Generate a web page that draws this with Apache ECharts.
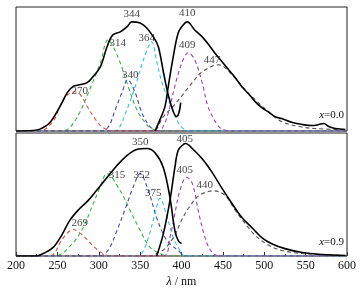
<!DOCTYPE html>
<html>
<head>
<meta charset="utf-8">
<script src="https://cdn.jsdelivr.net/npm/echarts@6/dist/echarts.min.js"></script>
<style>
  html, body { margin: 0; padding: 0; background: #fff; }
  #chart { width: 364px; height: 291px; }
</style>
</head>
<body>
<div id="chart"></div>
<script>
// x axis ticks (nm)
var xTicks = [200, 250, 300, 350, 400, 450, 500, 550, 600];

// panel x = 0.0 : measured excitation / emission, and fitted gaussian parts
var exc0 = [[200,0],[220,0.004],[229,0.015],[241,0.068],[253,0.197],[262,0.309],[269,0.36],[277,0.373],[286,0.39],[293,0.438],[302,0.518],[310,0.679],[317,0.775],[326,0.799],[334,0.839],[340,0.88],[350,0.871],[358,0.831],[366,0.759],[372,0.68],[378,0.48],[384,0.29],[390,0.157],[394,0.116],[397,0.149],[399,0.229]];
var em0 = [[368,0],[374,0.092],[380,0.197],[384,0.36],[390,0.598],[396,0.791],[402,0.855],[407,0.88],[416,0.815],[425,0.759],[433,0.695],[440,0.631],[449,0.558],[457,0.494],[465,0.43],[473,0.357],[482,0.293],[489,0.237],[497,0.189],[506,0.149],[513,0.116],[521,0.1],[534,0.068],[546,0.052],[558,0.044],[566,0.052],[572,0.06],[578,0.036],[586,0.02],[598,0.012]];
var red0 = [[200,0],[229,0],[245,0.08],[253,0.197],[262,0.29],[271,0.317],[278,0.29],[286,0.197],[298,0.076],[305,0.028],[320,0],[600,0]];
var green0 = [[200,0],[255,0],[265,0.028],[277,0.149],[289,0.333],[302,0.55],[311,0.735],[323,0.6],[334,0.39],[346,0.173],[358,0.052],[366,0.012],[380,0],[600,0]];
var blue0 = [[200,0],[300,0],[311,0.028],[320,0.173],[328,0.309],[335,0.414],[344,0.309],[352,0.149],[362,0.036],[372,0],[600,0]];
var cyan0 = [[200,0],[315,0],[323,0.012],[334,0.173],[344,0.357],[354,0.574],[364,0.72],[370,0.56],[376,0.4],[383,0.27],[390,0.16],[396,0.068],[404,0.01],[412,0],[600,0]];
var purple0 = [[200,0],[372,0],[380,0.068],[386,0.197],[394,0.414],[402,0.574],[408,0.631],[416,0.574],[425,0.39],[432,0.197],[443,0.052],[449,0.015],[460,0],[600,0]];
var gray0 = [[200,0],[365,0],[378,0.116],[390,0.2],[400,0.28],[413,0.39],[425,0.478],[445,0.534],[461,0.454],[477,0.333],[489,0.253],[506,0.149],[521,0.076],[542,0.036],[561,0.02],[600,0.01]];
var labels0 = [[340,0.944,'344'],[323,0.711,'314'],[358,0.751,'364'],[338,0.454,'340'],[277,0.325,'270'],[407,0.952,'410'],[407,0.695,'409'],[437,0.574,'447']];

// panel x = 0.9
var exc9 = [[200,0],[225,0],[233,0.02],[245,0.07],[255,0.166],[265,0.29],[277,0.386],[287,0.45],[297,0.53],[310,0.638],[322,0.736],[334,0.817],[346,0.866],[358,0.874],[368,0.84],[378,0.72],[386,0.476],[392,0.207],[396,0.126],[400,0.1]];
var em9 = [[370,0],[378,0.18],[386,0.45],[392,0.72],[396,0.86],[402,0.906],[405,0.915],[413,0.874],[425,0.79],[437,0.68],[449,0.55],[461,0.427],[473,0.313],[486,0.224],[497,0.15],[509,0.1],[525,0.06],[546,0.028],[570,0.012],[598,0.004]];
var red9 = [[200,0],[241,0],[255,0.126],[261,0.18],[269,0.215],[281,0.166],[289,0.11],[297,0.06],[305,0.02],[315,0],[600,0]];
var green9 = [[200,0],[247,0],[268,0.1],[281,0.23],[293,0.42],[301,0.55],[310,0.67],[326,0.53],[338,0.37],[350,0.207],[362,0.07],[374,0.02],[385,0],[600,0]];
var blue9 = [[200,0],[300,0],[311,0.045],[322,0.207],[334,0.42],[341,0.55],[350,0.67],[360,0.53],[370,0.31],[380,0.15],[386,0.1],[396,0.045],[405,0],[600,0]];
var cyan9 = [[200,0],[345,0],[352,0.02],[360,0.15],[368,0.345],[374,0.47],[382,0.33],[390,0.15],[396,0.07],[405,0],[600,0]];
var purple9 = [[200,0],[378,0],[386,0.15],[392,0.345],[398,0.53],[406,0.64],[413,0.59],[421,0.345],[427,0.18],[433,0.07],[440,0.012],[450,0],[600,0]];
var gray9 = [[200,0],[365,0],[370,0.02],[380,0.06],[392,0.17],[400,0.29],[409,0.394],[421,0.49],[439,0.53],[453,0.49],[465,0.37],[477,0.264],[489,0.167],[506,0.085],[521,0.045],[546,0.02],[600,0.004]];
var labels9 = [[350,0.923,'350'],[404,0.947,'405'],[352,0.654,'352'],[366,0.508,'375'],[404,0.695,'405'],[428,0.573,'440'],[277,0.264,'269'],[322,0.654,'315']];

var font = "'Liberation Serif', 'DejaVu Serif', serif";
var colors = {
  red: "#e8483c",
  green: "#36b247",
  blue: "#4548b0",
  cyan: "#33c2dc",
  purple: "#a33fb5",
  gray: "#555555"
};

var chart = echarts.init(document.getElementById("chart"));

function dashed(data, color, idx) {
  return {
    type: "line",
    data: data,
    xAxisIndex: idx,
    yAxisIndex: idx,
    smooth: 0.35,
    showSymbol: false,
    silent: true,
    lineStyle: { color: color, width: 1.1, type: [4, 3] }
  };
}
function solid(data, idx) {
  return {
    type: "line",
    data: data,
    xAxisIndex: idx,
    yAxisIndex: idx,
    smooth: 0.35,
    showSymbol: false,
    silent: true,
    z: 5,
    lineStyle: { color: "#000", width: 1.6 }
  };
}
function notes(data, idx) {
  return {
    type: "scatter",
    data: data,
    xAxisIndex: idx,
    yAxisIndex: idx,
    symbolSize: 0,
    silent: true,
    z: 6,
    label: {
      show: true,
      position: "inside",
      formatter: function (p) { return p.data[2]; },
      fontFamily: font,
      fontSize: 11,
      color: "#111"
    }
  };
}

var series = [];
[[red0, green0, blue0, cyan0, purple0, gray0, exc0, em0, labels0],
 [red9, green9, blue9, cyan9, purple9, gray9, exc9, em9, labels9]].forEach(function (set, i) {
  series.push(dashed(set[0], colors.red, i));
  series.push(dashed(set[1], colors.green, i));
  series.push(dashed(set[2], colors.blue, i));
  series.push(dashed(set[3], colors.cyan, i));
  series.push(dashed(set[4], colors.purple, i));
  series.push(dashed(set[5], colors.gray, i));
  series.push(solid(set[6], i));
  series.push(solid(set[7], i));
  series.push(notes(set[8], i));
});

var xBase = {
  type: "value",
  min: xTicks[0],
  max: xTicks[xTicks.length - 1],
  interval: 50,
  axisLine: { show: false },
  splitLine: { show: false }
};

var option = {
  backgroundColor: "#fff",
  animation: false,
  grid: [
    { left: 16, right: 17, top: 7, height: 124, show: true, borderColor: "#222", borderWidth: 1 },
    { left: 16, right: 17, top: 133, height: 123, show: true, borderColor: "#222", borderWidth: 1 }
  ],
  xAxis: [
    Object.assign({}, xBase, {
      gridIndex: 0,
      axisTick: { show: false },
      axisLabel: { show: false }
    }),
    Object.assign({}, xBase, {
      gridIndex: 1,
      axisTick: { show: true, inside: true, length: 4, lineStyle: { color: "#333" } },
      minorTick: { show: true, splitNumber: 2, length: 2, lineStyle: { color: "#333" } },
      axisLabel: { fontFamily: font, fontSize: 12, color: "#111", margin: 4 },
      name: "{i|λ} / nm",
      nameLocation: "middle",
      nameGap: 20,
      nameTextStyle: {
        fontFamily: font,
        fontSize: 12,
        color: "#111",
        rich: { i: { fontFamily: font, fontStyle: "italic", fontSize: 12, color: "#111" } }
      }
    })
  ],
  yAxis: [
    { type: "value", gridIndex: 0, min: 0, max: 1, show: false },
    { type: "value", gridIndex: 1, min: 0, max: 1, show: false }
  ],
  graphic: [
    {
      type: "text", right: 20, top: 110,
      style: {
        text: "{i|x}=0.0", fontFamily: font, fontSize: 11, fill: "#111",
        rich: { i: { fontFamily: font, fontStyle: "italic", fontSize: 11 } }
      }
    },
    {
      type: "text", right: 20, top: 237,
      style: {
        text: "{i|x}=0.9", fontFamily: font, fontSize: 11, fill: "#111",
        rich: { i: { fontFamily: font, fontStyle: "italic", fontSize: 11 } }
      }
    }
  ],
  series: series
};

chart.setOption(option);
</script>
</body>
</html>
